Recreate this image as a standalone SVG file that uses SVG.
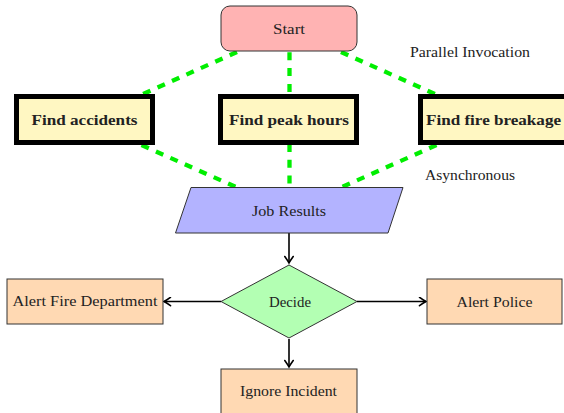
<svg xmlns="http://www.w3.org/2000/svg" width="564" height="413" viewBox="0 0 564 413">
<style>
  text { font-family: "Liberation Serif", "Times New Roman", serif; font-size: 14px; fill: #222; text-anchor: middle; }
  .b { font-weight: bold; }
  .thin { stroke: #333; stroke-width: 1; }
  .task { fill: #fff7c2; stroke: #000; stroke-width: 5; }
  .out { fill: #ffd9b3; stroke: #333; stroke-width: 1; }
  .green { stroke: #00ee00; stroke-width: 4.3; stroke-dasharray: 8 7.8; fill: none; }
  .arrow { stroke: #000; stroke-width: 1.6; fill: none; marker-end: url(#ah); }
</style>
<defs>
  <marker id="ah" viewBox="-8 -5 10 10" refX="0" refY="0" markerWidth="10" markerHeight="10" markerUnits="userSpaceOnUse" orient="auto">
    <path d="M -6.5 -4.2 Q -2 -1 0 0 Q -2 1 -6.5 4.2" fill="none" stroke="#000" stroke-width="1.6" stroke-linecap="round"/>
  </marker>
</defs>
<rect width="564" height="413" fill="#fff"/>

<g id="connectors">
  <line class="green" x1="237" y1="52" x2="143" y2="94"/>
  <line class="green" x1="289.5" y1="52.3" x2="289.5" y2="94"/>
  <line class="green" x1="341" y1="52" x2="435" y2="94"/>
  <line class="green" x1="141.5" y1="145" x2="237" y2="187.5"/>
  <line class="green" x1="289.5" y1="144" x2="289.5" y2="187.5"/>
  <line class="green" x1="436.5" y1="145" x2="341" y2="187.5"/>
  <line class="arrow" x1="289" y1="233" x2="289" y2="263"/>
  <line class="arrow" x1="289" y1="339" x2="289" y2="367"/>
  <line class="arrow" x1="221" y1="301.5" x2="164" y2="301.5"/>
  <line class="arrow" x1="357" y1="301.5" x2="426" y2="301.5"/>
</g>

<g id="start">
  <rect x="221" y="6" width="136" height="45" rx="9" fill="#ffb3b3" class="thin"/>
  <text x="289" y="34" textLength="32" lengthAdjust="spacingAndGlyphs">Start</text>
</g>

<g id="find-accidents">
  <rect class="task" x="16.5" y="96.5" width="136" height="46"/>
  <text class="b" x="84.5" y="124.5" textLength="106" lengthAdjust="spacingAndGlyphs">Find accidents</text>
</g>

<g id="find-peak-hours">
  <rect class="task" x="220.5" y="96.5" width="136" height="46"/>
  <text class="b" x="289" y="124.5" textLength="120" lengthAdjust="spacingAndGlyphs">Find peak hours</text>
</g>

<g id="find-fire-breakage">
  <rect class="task" x="420.5" y="96.5" width="146" height="46"/>
  <text class="b" x="493.5" y="124.5" textLength="135" lengthAdjust="spacingAndGlyphs">Find fire breakage</text>
</g>

<g id="parallel-label">
  <text x="470" y="56.5" textLength="120" lengthAdjust="spacingAndGlyphs">Parallel Invocation</text>
</g>
<g id="async-label">
  <text x="470" y="179.5" textLength="90" lengthAdjust="spacingAndGlyphs">Asynchronous</text>
</g>

<g id="job-results">
  <polygon points="191,187.5 403,187.5 388,233 175.5,233" fill="#b3b3ff" class="thin"/>
  <text x="289" y="216" textLength="74" lengthAdjust="spacingAndGlyphs">Job Results</text>
</g>

<g id="decide">
  <polygon points="289,265 357,301.5 289,338 221,301.5" fill="#b3ffb3" class="thin"/>
  <text x="290" y="306.5" textLength="42" lengthAdjust="spacingAndGlyphs">Decide</text>
</g>

<g id="alert-fire">
  <rect class="out" x="7" y="279" width="156" height="45"/>
  <text x="85" y="306" textLength="145" lengthAdjust="spacingAndGlyphs">Alert Fire Department</text>
</g>

<g id="alert-police">
  <rect class="out" x="427" y="279" width="135" height="45"/>
  <text x="494.5" y="306.5" textLength="76" lengthAdjust="spacingAndGlyphs">Alert Police</text>
</g>

<g id="ignore-incident">
  <rect class="out" x="221" y="369" width="136" height="46"/>
  <text x="288.5" y="396" textLength="97" lengthAdjust="spacingAndGlyphs">Ignore Incident</text>
</g>
</svg>
